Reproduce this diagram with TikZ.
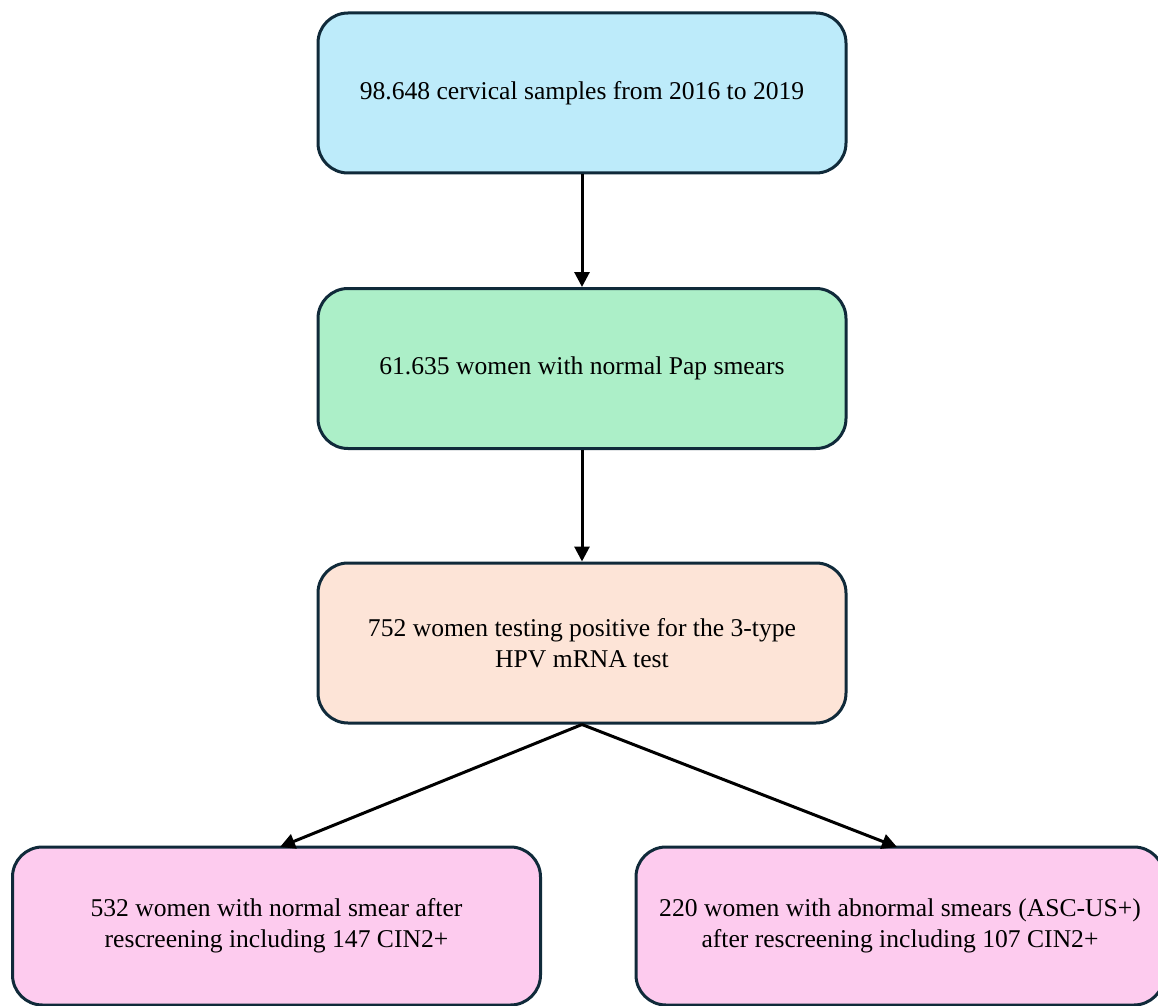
\documentclass[tikz,border=0pt]{standalone}
\usepackage{fontspec}
\setmainfont{Liberation Serif}
\usetikzlibrary{arrows.meta}
\definecolor{bordc}{HTML}{102A3A}
\definecolor{cblue}{HTML}{BDEBFA}
\definecolor{cgreen}{HTML}{ACEFC8}
\definecolor{cpeach}{HTML}{FDE4D7}
\definecolor{cpink}{HTML}{FDCBEE}
\begin{document}
\begin{tikzpicture}[x=0.5pt,y=-0.5pt,
  boxs/.style={draw=bordc, line width=1.5pt, rounded corners=15pt, minimum width=264pt, minimum height=80pt, align=center, font=\fontsize{12.8}{15.5}\selectfont, inner sep=0pt},
  conn/.style={line width=1.5pt, -{Triangle[length=7.5pt,width=7.5pt]}}]
\useasboundingbox (0,0) rectangle (1158,1006);
\node[boxs, fill=cblue] (b1) at (582,93) {\raisebox{-2pt}{98.648 cervical samples from 2016 to 2019}};
\node[boxs, fill=cgreen] (b2) at (582,368.5) {61.635 women with normal Pap smears};
\node[boxs, fill=cpeach] (b3) at (582,643) {752 women testing positive for the 3-type\\HPV mRNA test};
\node[boxs, fill=cpink, minimum height=79pt] (b4) at (276.5,926) {532 women with normal smear after\\rescreening including 147 CIN2+};
\node[boxs, fill=cpink, minimum height=79pt] (b5) at (900,926) {220 women with abnormal smears (ASC-US+)\\after rescreening including 107 CIN2+};
\coordinate (t4) at (280,847);
\coordinate (t5) at (897,847);
\draw[conn] (b1.south) -- (b2.north);
\draw[conn] (b2.south) -- (b3.north);
\draw[conn] (b3.south) -- (t4);
\draw[conn] (b3.south) -- (t5);
\end{tikzpicture}
\end{document}
